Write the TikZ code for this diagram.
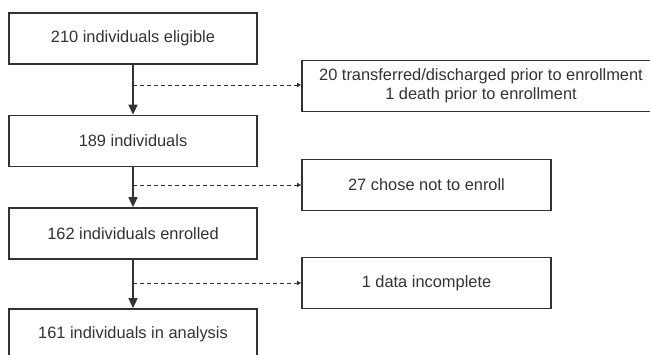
\documentclass[tikz,border=0pt]{standalone}
\usepackage{fontspec}
\setmainfont{Liberation Sans}
\usetikzlibrary{arrows.meta}
\definecolor{ink}{HTML}{333333}
\begin{document}
\begin{tikzpicture}[x=1pt, y=-1pt,
    every node/.style={font=\fontsize{16.4}{19}\selectfont, text=ink},
    flowbox/.style={draw=ink, line width=1.7pt, rectangle, inner sep=0pt, minimum height=51pt, align=center},
    mainarrow/.style={draw=ink, line width=1.7pt, -{Triangle[length=10pt,width=9pt]}},
    sidearrow/.style={draw=ink, line width=0.9pt, dash pattern=on 4pt off 3pt, -{Triangle[length=4pt,width=4pt]}}]

    \useasboundingbox (0,0) rectangle (650,355);

    % Nós principais
    \node[flowbox, minimum width=248pt] (elig) at (133,38.5) {210 individuals eligible};
    \node[flowbox, minimum width=248pt] (indiv) at (133,141) {189 individuals};
    \node[flowbox, minimum width=248pt] (enrol) at (133,233.5) {162 individuals enrolled};
    \node[flowbox, minimum width=248pt] (anal) at (133,334.5) {161 individuals in analysis};

    % Exclusões
    \node[flowbox, minimum width=358pt] (excl1) at (481,86) {20 transferred/discharged prior to enrollment\\1 death prior to enrollment};
    \node[flowbox, minimum width=249pt] (excl2) at (426.5,185) {27 chose not to enroll};
    \node[flowbox, minimum width=249pt] (excl3) at (426.5,283) {1 data incomplete};

    % Pontos de saída
    \coordinate (d1) at (133,85);
    \coordinate (d2) at (133,185);
    \coordinate (d3) at (133,283);

    % Setas principais
    \draw[mainarrow] (elig) -- (indiv);
    \draw[mainarrow] (indiv) -- (enrol);
    \draw[mainarrow] (enrol) -- (anal);

    % Setas tracejadas
    \draw[sidearrow] (d1) -- (excl1.west |- d1);
    \draw[sidearrow] (d2) -- (excl2.west |- d2);
    \draw[sidearrow] (d3) -- (excl3.west |- d3);

\end{tikzpicture}
\end{document}
